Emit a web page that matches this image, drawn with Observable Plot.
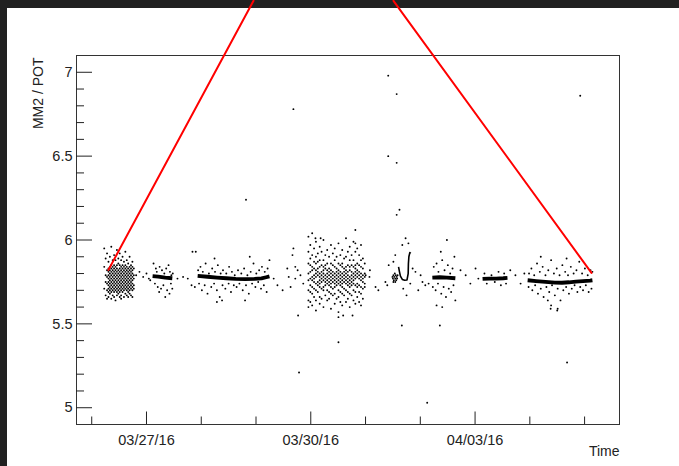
<!DOCTYPE html>
<html>
<head>
<meta charset="utf-8">
<script src="https://cdn.jsdelivr.net/npm/d3@7"></script>
<script src="https://cdn.jsdelivr.net/npm/@observablehq/plot@0.6"></script>
<style>
  html, body { margin: 0; padding: 0; background: #212121; width: 679px; height: 466px; overflow: hidden; }
  #wrap { position: absolute; left: 7px; top: 8px; width: 672px; height: 458px; background: #fff; }
  #wrap svg { overflow: visible; }
</style>
</head>
<body>
<div id="wrap"></div>
<script>
// ---- data (time in days since 2016-03-25 00:00 UTC, value = MM2 / POT) ----
const yLabel = "MM2 / POT";
const xLabel = "Time";
const xDomainDays = [0.509, 12.077];
const yDomain = [4.9, 7.1];
const xMajorTicks = ["2016-03-27T00:00Z", "2016-03-30T12:00Z", "2016-04-03T00:00Z"];
const xMinorTicks = ["2016-03-25T20:00Z", "2016-03-28T04:00Z", "2016-03-29T08:00Z", "2016-03-31T16:00Z", "2016-04-01T20:00Z", "2016-04-04T04:00Z", "2016-04-05T08:00Z"];
const yMajorTicks = [5, 5.5, 6, 6.5, 7];
const yMinorTicks = [5.1, 5.2, 5.3, 5.4, 5.6, 5.7, 5.8, 5.9, 6.1, 6.2, 6.3, 6.4, 6.6, 6.7, 6.8, 6.9];

// noisy cloud at the start (columns: time, values)
const cloudA = [
  [1.10, [5.95, 5.84, 5.71]],
  [1.13, [5.89, 5.79, 5.75, 5.67]],
  [1.16, [5.92, 5.82, 5.78, 5.74, 5.70, 5.65]],
  [1.19, [5.87, 5.83, 5.81, 5.79, 5.77, 5.75, 5.73, 5.71, 5.69, 5.66]],
  [1.22, [5.90, 5.84, 5.82, 5.80, 5.78, 5.76, 5.74, 5.72, 5.70, 5.68]],
  [1.25, [5.96, 5.85, 5.83, 5.81, 5.79, 5.77, 5.75, 5.73, 5.71, 5.69, 5.65]],
  [1.28, [5.88, 5.84, 5.82, 5.80, 5.78, 5.76, 5.74, 5.72, 5.70, 5.67]],
  [1.31, [5.91, 5.85, 5.83, 5.81, 5.79, 5.77, 5.75, 5.73, 5.71, 5.69, 5.66]],
  [1.34, [5.88, 5.84, 5.82, 5.80, 5.78, 5.76, 5.74, 5.72, 5.70, 5.64]],
  [1.37, [5.94, 5.85, 5.83, 5.81, 5.79, 5.77, 5.75, 5.73, 5.71, 5.69, 5.67]],
  [1.40, [5.89, 5.86, 5.82, 5.80, 5.78, 5.76, 5.74, 5.72, 5.70, 5.68]],
  [1.43, [5.92, 5.85, 5.83, 5.81, 5.79, 5.77, 5.75, 5.73, 5.71, 5.69, 5.66]],
  [1.46, [5.88, 5.84, 5.82, 5.80, 5.78, 5.76, 5.74, 5.72, 5.70, 5.67, 5.65]],
  [1.49, [5.90, 5.85, 5.83, 5.81, 5.79, 5.77, 5.75, 5.73, 5.71, 5.69]],
  [1.52, [5.87, 5.84, 5.82, 5.80, 5.78, 5.76, 5.74, 5.72, 5.70, 5.66]],
  [1.55, [5.93, 5.85, 5.83, 5.81, 5.79, 5.77, 5.75, 5.73, 5.71, 5.68]],
  [1.58, [5.88, 5.84, 5.82, 5.80, 5.78, 5.76, 5.74, 5.72, 5.70, 5.67]],
  [1.61, [5.86, 5.83, 5.81, 5.79, 5.77, 5.75, 5.73, 5.71, 5.69, 5.66]],
  [1.64, [5.90, 5.84, 5.82, 5.80, 5.78, 5.76, 5.74, 5.72, 5.70, 5.68]],
  [1.67, [5.85, 5.83, 5.81, 5.79, 5.77, 5.75, 5.73, 5.71, 5.67]],
  [1.70, [5.87, 5.84, 5.82, 5.80, 5.78, 5.76, 5.74, 5.72, 5.70, 5.66]],
  [1.73, [5.83, 5.79, 5.77, 5.73, 5.71]]
];

// noisy cloud in the middle
const cloudD = [
  [5.45, [6.02, 5.93, 5.86, 5.80, 5.76, 5.70, 5.64, 5.60]],
  [5.49, [5.97, 5.89, 5.85, 5.81, 5.77, 5.73, 5.69, 5.63]],
  [5.53, [6.04, 5.91, 5.84, 5.82, 5.78, 5.76, 5.72, 5.68, 5.61]],
  [5.57, [5.95, 5.87, 5.83, 5.79, 5.77, 5.75, 5.71, 5.66]],
  [5.61, [5.99, 5.90, 5.86, 5.82, 5.80, 5.78, 5.74, 5.70, 5.64, 5.58]],
  [5.65, [5.92, 5.87, 5.83, 5.81, 5.79, 5.75, 5.73, 5.69]],
  [5.69, [5.96, 5.88, 5.84, 5.80, 5.78, 5.76, 5.74, 5.72, 5.66, 5.62]],
  [5.73, [5.93, 5.85, 5.81, 5.79, 5.77, 5.75, 5.71, 5.65]],
  [5.77, [6.00, 5.88, 5.84, 5.82, 5.80, 5.78, 5.76, 5.72, 5.70, 5.60]],
  [5.81, [5.91, 5.85, 5.83, 5.79, 5.77, 5.75, 5.73, 5.67]],
  [5.85, [5.94, 5.86, 5.82, 5.80, 5.78, 5.76, 5.74, 5.70, 5.64]],
  [5.89, [5.90, 5.83, 5.81, 5.79, 5.77, 5.75, 5.73, 5.69, 5.65]],
  [5.93, [5.97, 5.86, 5.82, 5.80, 5.78, 5.76, 5.74, 5.72, 5.68, 5.59]],
  [5.97, [5.92, 5.85, 5.81, 5.79, 5.77, 5.75, 5.71, 5.67]],
  [6.01, [5.95, 5.88, 5.84, 5.80, 5.78, 5.76, 5.74, 5.72, 5.68, 5.62]],
  [6.05, [5.90, 5.83, 5.81, 5.79, 5.77, 5.75, 5.73, 5.65]],
  [6.09, [5.98, 5.86, 5.82, 5.80, 5.78, 5.76, 5.74, 5.70, 5.66, 5.57]],
  [6.13, [5.91, 5.85, 5.81, 5.79, 5.77, 5.75, 5.73, 5.69, 5.63]],
  [6.17, [5.94, 5.86, 5.84, 5.80, 5.78, 5.76, 5.74, 5.72, 5.68, 5.61]],
  [6.21, [5.89, 5.83, 5.81, 5.79, 5.77, 5.75, 5.71, 5.67]],
  [6.25, [6.01, 5.90, 5.84, 5.82, 5.80, 5.78, 5.76, 5.74, 5.70, 5.63]],
  [6.29, [5.93, 5.85, 5.81, 5.79, 5.77, 5.75, 5.73, 5.69, 5.65]],
  [6.33, [5.96, 5.88, 5.84, 5.82, 5.78, 5.76, 5.74, 5.72, 5.68, 5.60]],
  [6.37, [5.91, 5.85, 5.81, 5.79, 5.77, 5.75, 5.73, 5.67]],
  [6.41, [5.99, 5.88, 5.84, 5.80, 5.78, 5.76, 5.74, 5.70, 5.64]],
  [6.45, [5.93, 5.85, 5.83, 5.81, 5.79, 5.77, 5.73, 5.69, 5.62]],
  [6.49, [5.95, 5.86, 5.82, 5.80, 5.78, 5.74, 5.72, 5.66]],
  [6.53, [5.91, 5.85, 5.81, 5.79, 5.77, 5.73, 5.69, 5.63]],
  [6.57, [5.97, 5.88, 5.84, 5.80, 5.78, 5.76, 5.72, 5.68, 5.61]],
  [6.61, [5.89, 5.83, 5.79, 5.77, 5.75, 5.71, 5.65]],
  [6.65, [5.86, 5.80, 5.78, 5.74, 5.72]]
];

// dense stable stretches (median trace of the band)
const coreB = [[2.13, 5.785], [2.25, 5.782], [2.40, 5.776], [2.55, 5.772]];
const coreC = [[3.09, 5.786], [3.30, 5.781], [3.50, 5.776], [3.70, 5.772], [3.90, 5.768], [4.10, 5.767], [4.30, 5.768], [4.45, 5.771], [4.55, 5.778], [4.62, 5.783]];
const coreF = [[8.09, 5.776], [8.25, 5.778], [8.40, 5.776], [8.58, 5.772]];
const coreG = [[9.16, 5.768], [9.30, 5.770], [9.45, 5.770], [9.60, 5.772], [9.69, 5.774]];
const coreH = [[10.12, 5.760], [10.30, 5.755], [10.50, 5.750], [10.70, 5.746], [10.85, 5.745], [11.00, 5.748], [11.15, 5.752], [11.30, 5.755], [11.45, 5.758], [11.50, 5.760]];
const traceE = [[7.37, 5.84], [7.39, 5.81], [7.41, 5.785], [7.45, 5.765], [7.50, 5.760], [7.55, 5.762], [7.575, 5.80], [7.58, 5.86], [7.59, 5.90], [7.61, 5.925], [7.63, 5.92]];

// isolated points
const sparse = [
  [1.78, 5.79], [1.85, 5.81], [1.93, 5.78], [2.00, 5.80], [2.05, 5.77], [2.08, 5.76],
  [2.15, 5.86], [2.20, 5.83], [2.22, 5.81], [2.28, 5.84], [2.33, 5.82], [2.38, 5.80], [2.42, 5.83], [2.47, 5.85], [2.50, 5.81], [2.53, 5.79], [2.56, 5.80],
  [2.18, 5.74], [2.24, 5.72], [2.31, 5.71], [2.36, 5.73], [2.44, 5.70], [2.49, 5.68], [2.52, 5.74], [2.55, 5.71], [2.40, 5.66], [2.27, 5.69],
  [2.66, 5.77], [2.78, 5.78], [2.88, 5.77], [2.96, 5.73], [3.03, 5.72], [2.98, 5.93],
  [3.10, 5.82], [3.15, 5.84], [3.20, 5.81], [3.26, 5.86], [3.33, 5.80], [3.40, 5.83], [3.46, 5.81], [3.52, 5.85], [3.58, 5.80], [3.63, 5.82], [3.70, 5.80], [3.76, 5.84], [3.82, 5.81], [3.88, 5.79], [3.95, 5.82], [4.02, 5.80], [4.08, 5.83], [4.15, 5.79], [4.22, 5.81], [4.28, 5.86], [4.34, 5.80], [4.40, 5.82], [4.46, 5.84], [4.52, 5.81], [4.58, 5.83], [4.62, 5.88], [3.05, 5.93], [3.45, 5.89], [4.20, 5.90],
  [3.12, 5.74], [3.18, 5.70], [3.24, 5.73], [3.30, 5.68], [3.38, 5.72], [3.44, 5.74], [3.50, 5.70], [3.56, 5.66], [3.62, 5.73], [3.68, 5.71], [3.75, 5.74], [3.80, 5.69], [3.86, 5.73], [3.92, 5.72], [3.98, 5.74], [4.05, 5.70], [4.12, 5.73], [4.18, 5.68], [4.25, 5.74], [4.32, 5.72], [4.38, 5.75], [4.44, 5.71], [4.50, 5.73], [4.56, 5.69], [3.50, 5.63], [4.10, 5.64],
  [4.12, 6.24], [3.61, 5.64],
  [4.71, 5.77], [4.79, 5.73], [4.90, 5.70], [5.00, 5.83], [5.03, 5.78], [5.07, 5.72], [5.13, 5.95], [5.11, 5.91], [5.17, 5.84], [5.17, 5.77], [5.22, 5.82], [5.28, 5.79], [5.34, 5.74],
  [5.13, 6.78], [5.23, 5.55], [5.25, 5.21], [5.60, 6.01], [5.71, 6.01], [6.45, 6.06], [6.45, 5.98], [6.09, 5.39], [6.09, 5.54], [6.19, 5.55], [6.39, 5.55],
  [6.67, 5.79], [6.75, 5.78], [6.76, 5.82], [6.88, 5.72], [6.94, 5.70], [7.09, 5.75], [7.13, 5.73],
  [7.24, 5.78], [7.25, 5.77], [7.26, 5.79], [7.27, 5.76], [7.28, 5.78], [7.29, 5.80], [7.30, 5.77], [7.31, 5.79], [7.32, 5.76], [7.33, 5.78], [7.34, 5.77], [7.35, 5.79], [7.26, 5.75], [7.30, 5.75],
  [7.16, 5.85], [7.26, 5.87], [7.30, 5.91], [7.45, 5.97], [7.52, 6.01], [7.47, 5.71], [7.54, 5.67], [7.62, 5.74], [7.67, 5.83], [7.58, 5.98],
  [7.39, 6.18], [7.33, 6.15], [7.15, 6.50], [7.33, 6.46], [7.15, 6.98], [7.33, 6.87], [7.44, 5.49],
  [7.73, 5.81], [7.84, 5.79], [7.88, 5.75], [7.94, 5.73], [8.01, 5.74], [7.79, 5.70], [7.98, 5.03], [8.18, 5.61], [8.25, 5.49], [8.40, 6.00],
  [8.12, 5.84], [8.18, 5.86], [8.22, 5.81], [8.30, 5.88], [8.35, 5.82], [8.42, 5.85], [8.47, 5.80], [8.52, 5.83], [8.56, 5.90], [8.27, 5.93],
  [8.10, 5.72], [8.16, 5.70], [8.21, 5.74], [8.28, 5.68], [8.33, 5.72], [8.38, 5.66], [8.44, 5.71], [8.49, 5.69], [8.54, 5.73], [8.58, 5.64], [8.30, 5.60],
  [8.69, 5.82], [8.80, 5.79], [8.90, 5.74], [9.01, 5.83], [9.07, 5.77],
  [9.20, 5.80], [9.35, 5.79], [9.50, 5.81], [9.62, 5.80], [9.25, 5.74], [9.42, 5.75], [9.55, 5.73], [9.66, 5.74],
  [9.75, 5.82], [9.86, 5.79], [9.97, 5.74], [10.05, 5.80],
  [10.15, 5.80], [10.20, 5.83], [10.26, 5.79], [10.32, 5.86], [10.38, 5.81], [10.44, 5.84], [10.50, 5.79], [10.56, 5.82], [10.62, 5.88], [10.68, 5.80], [10.74, 5.83], [10.80, 5.79], [10.86, 5.85], [10.92, 5.81], [10.98, 5.79], [11.04, 5.84], [11.10, 5.80], [11.16, 5.82], [11.22, 5.87], [11.28, 5.80], [11.34, 5.83], [11.40, 5.79], [11.46, 5.82], [11.50, 5.81], [10.40, 5.90], [10.95, 5.89],
  [10.14, 5.72], [10.22, 5.70], [10.28, 5.73], [10.34, 5.68], [10.40, 5.71], [10.46, 5.66], [10.52, 5.72], [10.58, 5.69], [10.64, 5.73], [10.70, 5.67], [10.76, 5.71], [10.82, 5.64], [10.88, 5.70], [10.94, 5.72], [11.00, 5.68], [11.06, 5.71], [11.12, 5.73], [11.18, 5.69], [11.24, 5.72], [11.30, 5.70], [11.36, 5.73], [11.42, 5.69], [11.48, 5.71], [10.62, 5.61], [10.75, 5.58], [10.55, 5.64],
  [10.61, 5.59], [10.76, 5.59], [10.96, 5.27], [11.24, 6.86]
];

// red annotation lines (extend above the frame)
const redLeft = [[1.19, 5.822], [4.28, 7.426]];
const redRight = [[7.262, 7.426], [11.48, 5.804]];

// ---- build ----
const DAY0 = Date.UTC(2016, 2, 25);
const toDate = d => new Date(DAY0 + d * 864e5);
const pts = arr => arr.map(([d, v]) => ({t: toDate(d), v}));
const cloudPts = cols => cols.flatMap(([d, vs]) => vs.map(v => ({t: toDate(d), v})));

const allDots = [...cloudPts(cloudA), ...cloudPts(cloudD), ...pts(sparse)];
const cores = [coreB, coreC, coreF, coreG, coreH].flatMap((c, i) => c.map(([d, v]) => ({t: toDate(d), v, seg: i})));
const fmt = d3.utcFormat("%m/%d/%y");
const font = "'Liberation Sans', Arial, Helvetica, sans-serif";

const chart = Plot.plot({
  width: 672,
  height: 458,
  marginLeft: 69,
  marginRight: 60,
  marginTop: 47,
  marginBottom: 42,
  style: {fontFamily: font, overflow: "visible", background: "transparent"},
  x: {type: "utc", domain: xDomainDays.map(toDate)},
  y: {domain: yDomain},
  marks: [
    Plot.dot(allDots, {x: "t", y: "v", r: 0.95, fill: "#000", stroke: "none"}),
    Plot.line(cores, {x: "t", y: "v", z: "seg", stroke: "#000", strokeWidth: 3.8, strokeLinecap: "butt"}),
    Plot.line(pts(traceE), {x: "t", y: "v", stroke: "#000", strokeWidth: 1.6, strokeLinecap: "butt"}),
    Plot.frame({stroke: "#333"}),
    Plot.axisY(yMajorTicks, {anchor: "left", tickSize: -16, tickPadding: 20, tickFormat: d => String(d), label: null, fontSize: 14.5, color: "#222"}),
    Plot.axisY(yMinorTicks, {anchor: "left", tickSize: -8, tickFormat: () => "", label: null, color: "#222"}),
    Plot.axisX(xMajorTicks.map(s => new Date(s)), {anchor: "bottom", tickSize: -12.5, tickPadding: 23, tickFormat: fmt, label: null, fontSize: 14.5, color: "#222"}),
    Plot.axisX(xMinorTicks.map(s => new Date(s)), {anchor: "bottom", tickSize: -7.5, tickFormat: () => "", label: null, color: "#222"}),
    Plot.text([yLabel], {frameAnchor: "top-left", text: d => d, rotate: -90, textAnchor: "end", lineAnchor: "middle", dx: -38, dy: 2, fontSize: 14, fill: "#222"}),
    Plot.text([xLabel], {frameAnchor: "bottom-right", text: d => d, textAnchor: "end", lineAnchor: "middle", dy: 27, fontSize: 14, fill: "#222"}),
    Plot.line(pts(redLeft), {x: "t", y: "v", stroke: "#ff0000", strokeWidth: 2}),
    Plot.line(pts(redRight), {x: "t", y: "v", stroke: "#ff0000", strokeWidth: 2})
  ]
});
document.getElementById("wrap").appendChild(chart);
</script>
</body>
</html>
